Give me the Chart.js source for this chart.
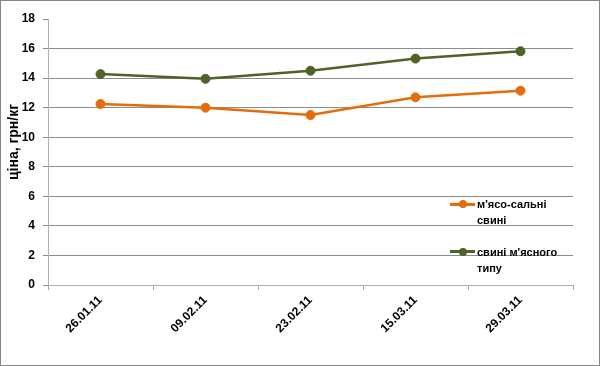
<!DOCTYPE html>
<html><head><meta charset="utf-8">
<script src="https://cdn.jsdelivr.net/npm/chart.js@4"></script>
<style>
html,body{margin:0;padding:0;background:#fff}
#wrap{position:relative;width:600px;height:366px;overflow:hidden}
#frame{position:absolute;left:0;top:0;width:600px;height:366px;box-sizing:border-box;border:1px solid #868686;pointer-events:none}
.lgt{position:absolute;font:bold 11px "Liberation Sans",Arial,sans-serif;color:#000;line-height:16px;white-space:nowrap}
.lgl{position:absolute;height:3px;width:25px}
.lgd{position:absolute;width:8px;height:8px;border-radius:50%}
</style></head>
<body>
<div id="wrap">
<canvas id="c" width="600" height="366"></canvas>
<div id="legend"></div>
<div id="frame"></div>
</div>
<script>
const categories = ['26.01.11', '09.02.11', '23.02.11', '15.03.11', '29.03.11'];
const meatFatPigs = [12.25, 12.0, 11.5, 12.7, 13.15];
const meatTypePigs = [14.27, 13.95, 14.5, 15.32, 15.82];
const seriesLabels = [["м'ясо-сальні", "свині"], ["свині м'ясного", "типу"]];
const yTickValues = [0, 2, 4, 6, 8, 10, 12, 14, 16, 18];
const yTitle = 'ціна, грн/кг';

const orange = '#E46C0A';
const green = '#4F6228';
const tickFont = {family: '"Liberation Sans", Arial, sans-serif', size: 12, weight: 'bold'};

// shift the y-axis title slightly (as in the original, it sits a bit above the plot centre)
const titleShift = {
  id: 'titleShift',
  afterLayout(chart) {
    const s = chart.scales.y;
    if (s && !s._shiftPatched) {
      const orig = s.drawTitle.bind(s);
      s.drawTitle = function () {
        const ctx = chart.ctx;
        ctx.save(); ctx.translate(3, -10); orig(); ctx.restore();
      };
      s._shiftPatched = true;
    }
  }
};

new Chart(document.getElementById('c'), {
  type: 'line',
  data: {
    labels: categories,
    datasets: [
      {label: seriesLabels[0].join(' '), data: meatFatPigs, borderColor: orange, backgroundColor: orange,
       pointBackgroundColor: orange, pointBorderColor: orange, borderWidth: 2.5, pointRadius: 4.5, pointBorderWidth: 1, tension: 0},
      {label: seriesLabels[1].join(' '), data: meatTypePigs, borderColor: green, backgroundColor: green,
       pointBackgroundColor: green, pointBorderColor: green, borderWidth: 2.5, pointRadius: 4.5, pointBorderWidth: 1, tension: 0}
    ]
  },
  plugins: [titleShift],
  options: {
    responsive: false,
    animation: false,
    layout: {padding: {left: 0, top: 19, right: 27, bottom: 0}},
    plugins: {legend: {display: false}, tooltip: {enabled: false}},
    scales: {
      x: {
        offset: true,
        grid: {offset: true, drawOnChartArea: false, drawTicks: true, tickLength: 5, tickColor: '#a6a6a6'},
        border: {color: '#b0b0b0', width: 1},
        ticks: {minRotation: 45, maxRotation: 45, padding: 3, color: '#000', font: tickFont},
        afterFit(s) { s.height = 81; }
      },
      y: {
        min: 0, max: 18,
        afterBuildTicks(s) { s.ticks = yTickValues.map(v => ({value: v})); },
        ticks: {padding: 8, color: '#000', font: tickFont},
        grid: {
          color: c => (c.tick && (c.tick.value === 18 || c.tick.value === 0)) ? 'rgba(0,0,0,0)' : '#8c8c8c',
          tickColor: '#8c8c8c', tickLength: 5, lineWidth: 1
        },
        border: {color: '#b0b0b0', width: 1},
        title: {display: true, text: yTitle, color: '#000', font: {family: '"Liberation Sans", Arial, sans-serif', size: 14, weight: 'bold'}, padding: {top: 3, bottom: 0}},
        afterFit(s) { s.width = 48; }
      }
    }
  }
});

// legend (HTML overlay)
const lg = document.getElementById('legend');
const legendItems = [
  {color: orange, lines: seriesLabels[0], y: 204},
  {color: green, lines: seriesLabels[1], y: 251.5}
];
legendItems.forEach(it => {
  const l = document.createElement('div');
  l.className = 'lgl'; l.style.background = it.color;
  l.style.left = '450px'; l.style.top = (it.y - 1.5) + 'px';
  lg.appendChild(l);
  const d = document.createElement('div');
  d.className = 'lgd'; d.style.background = it.color;
  d.style.left = '458.5px'; d.style.top = (it.y - 4) + 'px';
  lg.appendChild(d);
  it.lines.forEach((t, i) => {
    const s = document.createElement('div');
    s.className = 'lgt'; s.textContent = t;
    s.style.left = '477px'; s.style.top = (it.y - 8 + i * 16) + 'px';
    lg.appendChild(s);
  });
});
</script>
</body></html>
